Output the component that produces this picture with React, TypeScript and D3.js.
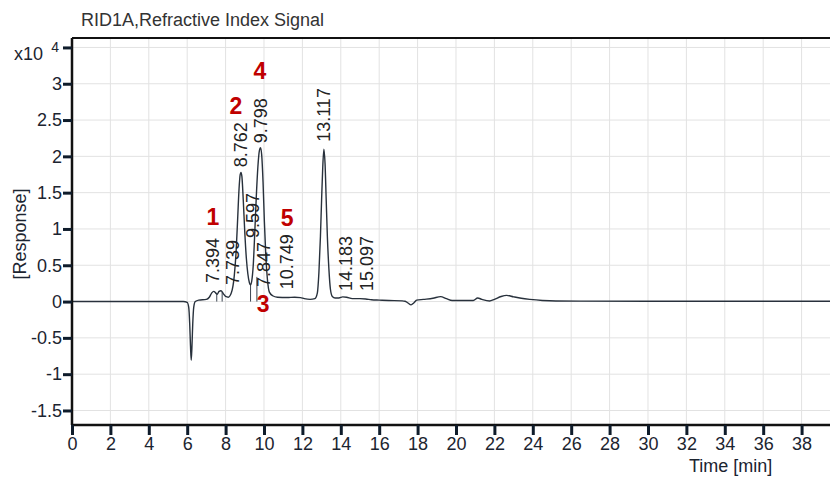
import { useEffect, useRef } from "react";
import * as d3 from "d3";

// trace: [time (min), response (x10^4)]
const trace: [number, number][] = [
  [0, 0], [5.8, 0], [6.0, -0.01], [6.08, -0.08], [6.13, -0.3], [6.17, -0.6],
  [6.21, -0.81], [6.25, -0.6], [6.29, -0.3], [6.34, -0.08], [6.42, 0.0],
  [6.6, 0.02], [7.0, 0.03], [7.15, 0.06], [7.28, 0.12], [7.38, 0.14],
  [7.48, 0.12], [7.56, 0.1], [7.66, 0.14], [7.76, 0.15], [7.88, 0.11],
  [8.0, 0.07], [8.14, 0.06], [8.3, 0.12], [8.45, 0.35], [8.55, 0.7],
  [8.63, 1.15], [8.7, 1.55], [8.76, 1.75], [8.8, 1.78], [8.85, 1.72],
  [8.92, 1.4], [9.0, 0.95], [9.08, 0.6], [9.16, 0.38], [9.24, 0.26],
  [9.3, 0.23], [9.36, 0.28], [9.44, 0.5], [9.52, 0.95], [9.6, 1.45],
  [9.68, 1.85], [9.76, 2.08], [9.82, 2.12], [9.88, 2.02], [9.95, 1.65],
  [10.02, 1.1], [10.1, 0.6], [10.18, 0.3], [10.28, 0.13], [10.45, 0.08],
  [10.7, 0.06], [11.2, 0.055], [11.6, 0.06], [11.9, 0.055], [12.1, 0.04],
  [12.4, 0.03], [12.65, 0.04], [12.78, 0.12], [12.86, 0.4], [12.94, 0.9],
  [13.0, 1.4], [13.06, 1.85], [13.12, 2.1], [13.18, 1.9], [13.24, 1.4],
  [13.3, 0.9], [13.38, 0.45], [13.46, 0.17], [13.56, 0.07], [13.7, 0.05],
  [13.9, 0.05], [14.1, 0.065], [14.3, 0.06], [14.6, 0.04], [15.0, 0.04],
  [15.3, 0.035], [15.6, 0.025], [16.0, 0.02], [16.5, 0.015], [17.2, 0.01],
  [17.35, 0.005], [17.5, -0.02], [17.66, -0.045], [17.8, -0.02],
  [17.95, 0.02], [18.3, 0.03], [18.8, 0.045], [19.2, 0.068], [19.5, 0.04],
  [19.8, 0.015], [20.9, 0.015], [21.13, 0.05], [21.35, 0.03], [21.75, 0.008],
  [22.0, 0.03], [22.35, 0.07], [22.64, 0.085], [23.0, 0.065], [23.4, 0.045],
  [23.85, 0.03], [24.5, 0.015], [25.2, 0.008], [30, 0.005], [39.5, 0.004],
];

// integration drop lines [time, top]
const dropLines: [number, number][] = [
  [7.54, 0.1], [7.82, 0.13], [9.3, 0.23], [9.63, 0.34],
];

// retention-time labels: text, anchor time, start value
const peakLabels: [string, number, number][] = [
  ["7.394", 7.36, 0.255],
  ["7.739", 8.41, 0.227],
  ["8.762", 8.78, 1.85],
  ["9.798", 9.84, 2.18],
  ["9.597", 9.44, 0.875],
  ["7.847", 10.0, 0.2],
  ["10.749", 11.21, 0.17],
  ["13.117", 13.13, 2.2],
  ["14.183", 14.26, 0.145],
  ["15.097", 15.35, 0.145],
];

// red compound numbers: text, time, value
const compoundMarks: [string, number, number][] = [
  ["1", 7.34, 1.16],
  ["2", 8.54, 2.69],
  ["3", 9.95, -0.04],
  ["4", 9.79, 3.18],
  ["5", 11.2, 1.15],
];

const xTicks = d3.range(0, 40, 2);
const yTicks = [-1.5, -1, -0.5, 0, 0.5, 1, 1.5, 2, 2.5, 3, 3.5];
const yTickLabels = ["-1.5", "-1", "-0.5", "0", "0.5", "1", "1.5", "2", "2.5", "3", ""];

const FONT = "'Liberation Sans', Arial, sans-serif";

export default function App() {
  const svgRef = useRef<SVGSVGElement>(null);

  useEffect(() => {
    const el = svgRef.current;
    if (!el) return;
    d3.select(el).selectAll("*").remove();

    const W = 830;
    const H = 481;
    const m = { top: 38, right: 0, bottom: 56, left: 72 };
    const iw = W - m.left - m.right;
    const ih = H - m.top - m.bottom;

    const xs = d3.scaleLinear().domain([0, 39.48]).range([0, iw]);
    const ys = d3.scaleLinear().domain([-1.7, 3.63]).range([ih, 0]);

    const root = d3.select(el);
    root.append("rect").attr("width", W).attr("height", H).attr("fill", "#fff");

    // title
    root
      .append("text")
      .attr("x", 81)
      .attr("y", 26)
      .attr("fill", "#333")
      .style("font-size", "18px")
      .style("font-family", FONT)
      .text("RID1A,Refractive Index Signal");

    const svg = root
      .append("g")
      .attr("transform", `translate(${m.left},${m.top})`);

    // grid
    svg
      .selectAll(".gx")
      .data(xTicks.slice(1))
      .enter()
      .append("line")
      .attr("x1", (d) => xs(d))
      .attr("x2", (d) => xs(d))
      .attr("y1", 0)
      .attr("y2", ih)
      .attr("stroke", "#e2e2e2")
      .attr("stroke-width", 1);
    svg
      .selectAll(".gy")
      .data(yTicks)
      .enter()
      .append("line")
      .attr("x1", 0)
      .attr("x2", iw)
      .attr("y1", (d) => ys(d))
      .attr("y2", (d) => ys(d))
      .attr("stroke", "#e2e2e2")
      .attr("stroke-width", 1);

    // drop lines
    svg
      .selectAll(".drop")
      .data(dropLines)
      .enter()
      .append("line")
      .attr("x1", (d) => xs(d[0]))
      .attr("x2", (d) => xs(d[0]))
      .attr("y1", (d) => ys(d[1]))
      .attr("y2", ys(0))
      .attr("stroke", "#3a4450")
      .attr("stroke-width", 1);

    // trace
    const line = d3
      .line<[number, number]>()
      .x((d) => xs(d[0]))
      .y((d) => ys(d[1]))
      .curve(d3.curveMonotoneX);
    svg
      .append("path")
      .datum(trace)
      .attr("fill", "none")
      .attr("stroke", "#28313c")
      .attr("stroke-width", 1.4)
      .attr("d", line);

    // peak labels
    svg
      .selectAll(".pl")
      .data(peakLabels)
      .enter()
      .append("text")
      .attr(
        "transform",
        (d) => `translate(${xs(d[1])},${ys(d[2])}) rotate(-90)`,
      )
      .attr("dominant-baseline", "central")
      .attr("fill", "#222")
      .style("font-size", "18px")
      .style("font-family", FONT)
      .text((d) => d[0]);

    // compound numbers
    svg
      .selectAll(".cm")
      .data(compoundMarks)
      .enter()
      .append("text")
      .attr("x", (d) => xs(d[1]))
      .attr("y", (d) => ys(d[2]))
      .attr("text-anchor", "middle")
      .attr("dominant-baseline", "central")
      .attr("fill", "#c00000")
      .style("font-size", "23px")
      .style("font-weight", "bold")
      .style("font-family", FONT)
      .text((d) => d[0]);

    // frame
    svg
      .append("line")
      .attr("x1", 0)
      .attr("x2", iw)
      .attr("y1", 0)
      .attr("y2", 0)
      .attr("stroke", "#111")
      .attr("stroke-width", 2);
    svg
      .append("line")
      .attr("x1", 0)
      .attr("x2", iw)
      .attr("y1", ih)
      .attr("y2", ih)
      .attr("stroke", "#111")
      .attr("stroke-width", 2.5);
    svg
      .append("line")
      .attr("x1", 0)
      .attr("x2", 0)
      .attr("y1", 0)
      .attr("y2", ih)
      .attr("stroke", "#111")
      .attr("stroke-width", 2.5);

    // axes
    const xAxis = svg
      .append("g")
      .attr("transform", `translate(0,${ih})`)
      .call(d3.axisBottom(xs).tickValues(xTicks).tickSize(10).tickPadding(2));
    xAxis.select(".domain").remove();
    xAxis.selectAll(".tick line").attr("stroke", "#0f1c2b").attr("stroke-width", 3);
    xAxis
      .selectAll(".tick text")
      .attr("fill", "#1c2430")
      .style("font-size", "18px")
      .style("font-family", FONT);

    const yAxis = svg
      .append("g")
      .call(
        d3
          .axisLeft(ys)
          .tickValues(yTicks)
          .tickSize(9)
          .tickPadding(1)
          .tickFormat((_, i) => yTickLabels[i]),
      );
    yAxis.select(".domain").remove();
    yAxis.selectAll(".tick line").attr("stroke", "#0f1c2b").attr("stroke-width", 3);
    yAxis
      .selectAll(".tick text")
      .attr("fill", "#1c2430")
      .style("font-size", "18px")
      .style("font-family", FONT);

    // multiplier
    root
      .append("text")
      .attr("x", 43)
      .attr("y", 60)
      .attr("text-anchor", "end")
      .attr("fill", "#1c2430")
      .style("font-size", "18px")
      .style("font-family", FONT)
      .text("x10");
    root
      .append("text")
      .attr("x", 59)
      .attr("y", m.top + ys(3.5))
      .attr("text-anchor", "end")
      .attr("dominant-baseline", "central")
      .attr("fill", "#1c2430")
      .style("font-size", "14px")
      .style("font-family", FONT)
      .text("4");

    // axis titles
    root
      .append("text")
      .attr("transform", `translate(20,${234}) rotate(-90)`)
      .attr("text-anchor", "middle")
      .attr("dominant-baseline", "central")
      .attr("fill", "#1c2430")
      .style("font-size", "18px")
      .style("font-family", FONT)
      .text("[Response]");
    root
      .append("text")
      .attr("x", 689)
      .attr("y", 472)
      .attr("fill", "#1c2430")
      .style("font-size", "18px")
      .style("font-family", FONT)
      .text("Time [min]");
  }, []);

  return (
    <svg
      ref={svgRef}
      width={830}
      height={481}
      style={{ position: "absolute", left: 0, top: 0, display: "block" }}
    />
  );
}
